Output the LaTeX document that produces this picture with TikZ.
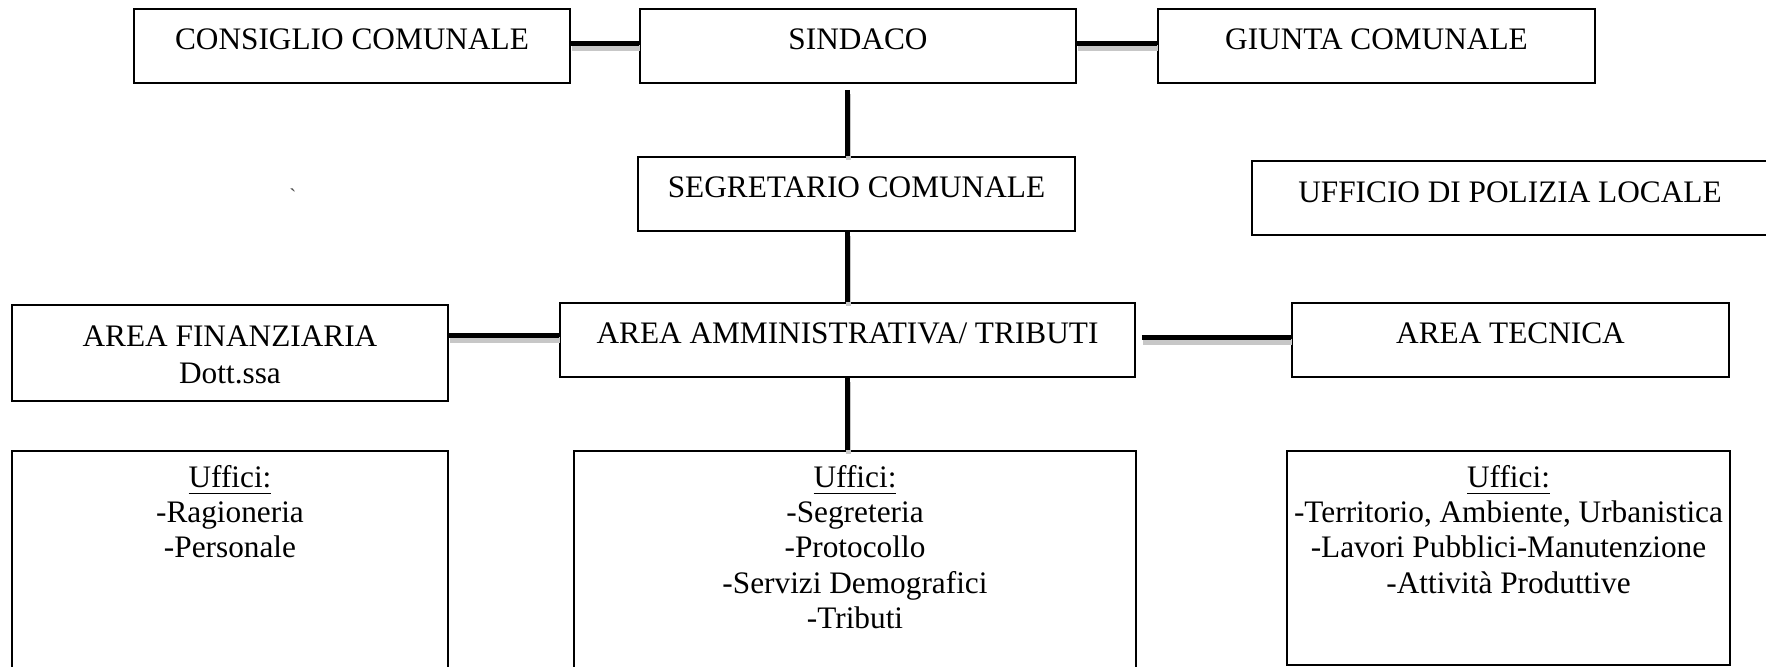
\documentclass[tikz,border=0pt]{standalone}
\usepackage{fontspec}
\setmainfont{Liberation Serif}
\usetikzlibrary{fit,calc}
\tikzset{
  box/.style={draw=black, line width=0.45pt, inner sep=0pt, rectangle},
  lbl/.style={font=\fontsize{8.9pt}{9.96pt}\selectfont, align=center, inner sep=0pt, anchor=north},
  conn/.style={line width=1.4pt, draw=black,
    preaction={draw=black!22, line width=1.6pt, transform canvas={shift={(0.3pt,-1.2pt)}}}}
}
\begin{document}
\begin{tikzpicture}[x=0.01cm,y=-0.01cm]
\useasboundingbox (0,0) rectangle (1766,667);
% boxes
\node[box, fit={(134,9) (570,83)}] (cc) {};
\node[box, fit={(640,9) (1076,83)}] (sind) {};
\node[box, fit={(1158,9) (1595,83)}] (giu) {};
\node[box, fit={(638,157) (1075,231)}] (seg) {};
\node[box, fit={(1252,161) (1775,235)}] (pol) {};
\node[box, fit={(12,305) (448,401)}] (fin) {};
\node[box, fit={(560,303) (1135,377)}] (amm) {};
\node[box, fit={(1292,303) (1729,377)}] (tec) {};
\node[box, fit={(12,451) (448,672)}] (uf1) {};
\node[box, fit={(574,451) (1136,672)}] (uf2) {};
\node[box, fit={(1287,451) (1730,665)}] (uf3) {};
% texts
\node[lbl] (tcc) at ($(cc.north)+(0,16.5)$) {\strut CONSIGLIO COMUNALE};
\node[lbl] (tsind) at ($(sind.north)+(0,16.5)$) {\strut SINDACO};
\node[lbl] (tgiu) at ($(giu.north)+(0,16.5)$) {\strut GIUNTA COMUNALE};
\node[lbl] (tseg) at ($(seg.north)+(0,16.5)$) {\strut SEGRETARIO COMUNALE};
\node[lbl] (tpol) at ($(pol.north -| 1510,0)+(0,17.5)$) {\strut UFFICIO DI POLIZIA LOCALE};
\node[lbl, font=\fontsize{8.9pt}{10.5pt}\selectfont] (tfin) at ($(fin.north)+(0,15.5)$) {\strut AREA FINANZIARIA\\Dott.ssa};
\node[lbl] (tamm) at ($(amm.north)+(0,16.5)$) {\strut AREA AMMINISTRATIVA/ TRIBUTI};
\node[lbl] (ttec) at ($(tec.north)+(0,16.5)$) {\strut AREA TECNICA};
\node[lbl] (tuf1) at ($(uf1.north)+(0,12.5)$) {\strut\underline{Uffici:}\\-Ragioneria\\-Personale};
\node[lbl] (tuf2) at ($(uf2.north)+(0,12.5)$) {\strut\underline{Uffici:}\\-Segreteria\\-Protocollo\\-Servizi Demografici\\-Tributi};
\node[lbl] (tuf3) at ($(uf3.north)+(0,12.5)$) {\strut\underline{Uffici:}\\-Territorio, Ambiente, Urbanistica\\-Lavori Pubblici-Manutenzione\\-Attività Produttive};
\node[font=\fontsize{6pt}{7pt}\selectfont, inner sep=0pt, text=black!70] (tick) at (293,196) {\textasciigrave};
% connectors
\draw[conn] ($(cc.east)+(0,-2.5)$) -- ($(sind.west)+(0,-2.5)$);
\draw[conn] ($(sind.east)+(0,-2.5)$) -- ($(giu.west)+(0,-2.5)$);
\coordinate (s1) at ($(sind.south -| amm.north)+(0,6)$);
\draw[conn] (s1) -- (seg.north -| amm.north);
\draw[conn] (seg.south -| amm.north) -- (amm.north);
\draw[conn] ($(fin.east |- amm.west)+(0,-4.5)$) -- ($(amm.west)+(0,-4.5)$);
\draw[conn] ($(amm.east)+(6,-2.5)$) -- ($(tec.west)+(0,-2.5)$);
\draw[conn] (amm.south) -- (amm.south |- uf2.north);
\end{tikzpicture}
\end{document}
